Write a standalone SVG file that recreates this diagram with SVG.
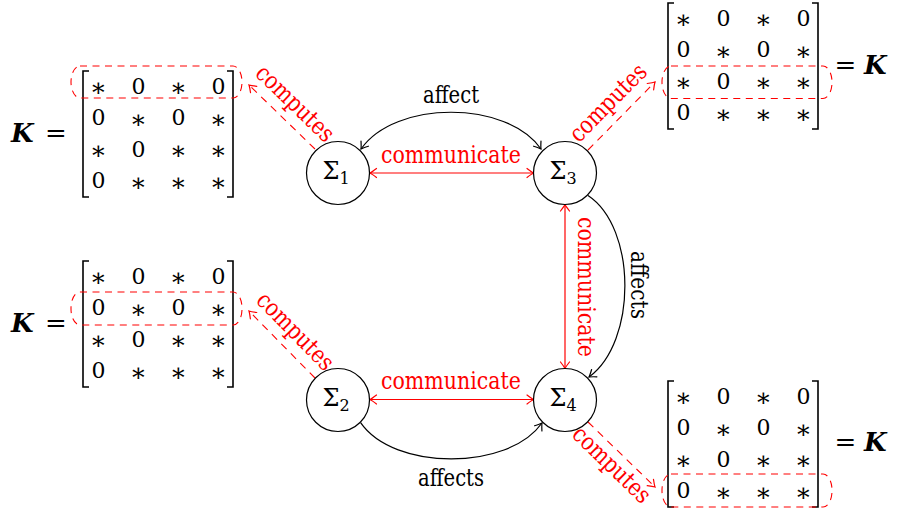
<svg xmlns="http://www.w3.org/2000/svg" width="897" height="514" viewBox="0 0 897 514" font-family="'DejaVu Serif', serif">
  <style>
    text { font-size: 24px; fill: #000; }
    .red { fill: #ff0000; }
    .node { fill: #fff; stroke: #000; stroke-width: 1.2; }
    .edge { fill: none; stroke: #000; stroke-width: 1.2; }
    .comm { fill: none; stroke: #ff0000; stroke-width: 1.2; }
    .dash { fill: none; stroke: #ff0000; stroke-width: 1.1; stroke-dasharray: 7.5 6; }
    .hl { fill: none; stroke: #ff0000; stroke-width: 1.1; stroke-dasharray: 7 5.5; }
    .brk { fill: none; stroke: #000; stroke-width: 1.6; }
    .gainK { font-size: 26px; font-weight: bold; font-style: italic; }
    .eq { font-size: 26px; }
    .sig { font-size: 24px; }
    .sub { font-size: 16px; }
    .cell text { font-size: 22px; }
    .cell .ast { font-size: 25px; }
  </style>
  <defs>
    <marker id="ah" markerUnits="userSpaceOnUse" markerWidth="14" markerHeight="14" refX="0" refY="0" orient="auto-start-reverse" overflow="visible">
      <path d="M-6.5,-4.5 Q-2,-1 0,0 Q-2,1 -6.5,4.5" fill="none" stroke="#000" stroke-width="1.2" stroke-linecap="round"/>
    </marker>
    <marker id="ahr" markerUnits="userSpaceOnUse" markerWidth="14" markerHeight="14" refX="0" refY="0" orient="auto-start-reverse" overflow="visible">
      <path d="M-6.5,-4.5 Q-2,-1 0,0 Q-2,1 -6.5,4.5" fill="none" stroke="#ff0000" stroke-width="1.2" stroke-linecap="round" stroke-dasharray="none"/>
    </marker>
    <!-- 4x4 sparsity pattern shared by every local gain matrix -->
    <g id="mat">
      <path class="brk" d="M6,0 H0 V126 H6 M144,0 H150 V126 H144"/>
      <g class="cell" text-anchor="middle">
        <text class="ast" x="15.5" y="25">∗</text><text x="55.5" y="22.5">0</text><text class="ast" x="95.5" y="25">∗</text><text x="135.5" y="22.5">0</text>
        <text x="15.5" y="54">0</text><text class="ast" x="55.5" y="56.5">∗</text><text x="95.5" y="54">0</text><text class="ast" x="135.5" y="56.5">∗</text>
        <text class="ast" x="15.5" y="88">∗</text><text x="55.5" y="85.5">0</text><text class="ast" x="95.5" y="88">∗</text><text class="ast" x="135.5" y="88">∗</text>
        <text x="15.5" y="117">0</text><text class="ast" x="55.5" y="119.5">∗</text><text class="ast" x="95.5" y="119.5">∗</text><text class="ast" x="135.5" y="119.5">∗</text>
      </g>
    </g>
  </defs>

  <!-- gain matrices with the row each subsystem computes -->
  <g id="matrix1">
    <use href="#mat" x="83" y="71"/>
    <rect class="hl" x="71" y="66" width="171" height="32" rx="9" ry="16"/>
    <text class="gainK" x="11" y="142">K</text>
    <text class="eq" x="56" y="142" text-anchor="middle">=</text>
  </g>
  <g id="matrix2">
    <use href="#mat" x="83" y="261"/>
    <rect class="hl" x="71" y="292" width="171" height="33" rx="9" ry="16"/>
    <text class="gainK" x="11" y="332">K</text>
    <text class="eq" x="56" y="332" text-anchor="middle">=</text>
  </g>
  <g id="matrix3">
    <use href="#mat" x="668" y="3"/>
    <rect class="hl" x="662" y="66" width="170" height="32.5" rx="9" ry="16"/>
    <text class="eq" x="845.5" y="74" text-anchor="middle">=</text>
    <text class="gainK" x="864" y="74">K</text>
  </g>
  <g id="matrix4">
    <use href="#mat" x="668" y="381"/>
    <rect class="hl" x="662" y="474" width="170" height="33" rx="9" ry="16"/>
    <text class="eq" x="845.5" y="451" text-anchor="middle">=</text>
    <text class="gainK" x="864" y="451">K</text>
  </g>

  <!-- edges between subsystems and to the computed rows -->
  <g id="connectors">
    <path class="edge" d="M361,149 C395,100 507,100 541,149" marker-start="url(#ah)" marker-end="url(#ah)"/>
    <text x="451" y="103" text-anchor="middle" textLength="56" lengthAdjust="spacingAndGlyphs">affect</text>

    <path class="edge" d="M588,195.5 C637,228 637,342 589,377" marker-end="url(#ah)"/>
    <text transform="translate(631,285) rotate(90)" text-anchor="middle" textLength="68" lengthAdjust="spacingAndGlyphs">affects</text>

    <path class="edge" d="M360.6,422.6 C394,471 508,471 542,423" marker-end="url(#ah)"/>
    <text x="451" y="486" text-anchor="middle" textLength="66" lengthAdjust="spacingAndGlyphs">affects</text>

    <path class="comm" d="M370,173 H533.5" marker-start="url(#ahr)" marker-end="url(#ahr)"/>
    <text class="red" x="451" y="163" text-anchor="middle" textLength="140" lengthAdjust="spacingAndGlyphs">communicate</text>

    <path class="comm" d="M370,399.5 H533.5" marker-start="url(#ahr)" marker-end="url(#ahr)"/>
    <text class="red" x="451" y="389" text-anchor="middle" textLength="140" lengthAdjust="spacingAndGlyphs">communicate</text>

    <path class="comm" d="M565,204.5 V368.5" marker-start="url(#ahr)" marker-end="url(#ahr)"/>
    <text class="red" transform="translate(565,287) rotate(90)" y="-13" text-anchor="middle" textLength="140" lengthAdjust="spacingAndGlyphs">communicate</text>

    <path class="dash" d="M315,149 L249,85" marker-end="url(#ahr)"/>
    <text class="red" transform="translate(282,117) rotate(44.1)" y="-11" text-anchor="middle" textLength="99" lengthAdjust="spacingAndGlyphs">computes</text>

    <path class="dash" d="M315,378 L249,311" marker-end="url(#ahr)"/>
    <text class="red" transform="translate(282,344.5) rotate(45.4)" y="-11" text-anchor="middle" textLength="99" lengthAdjust="spacingAndGlyphs">computes</text>

    <path class="dash" d="M588,150 L655,82" marker-end="url(#ahr)"/>
    <text class="red" transform="translate(621.5,116) rotate(-45.4)" y="-11" text-anchor="middle" textLength="99" lengthAdjust="spacingAndGlyphs">computes</text>

    <path class="dash" d="M588,422 L655,487" marker-end="url(#ahr)"/>
    <text class="red" transform="translate(621.5,454.5) rotate(44.1)" y="22" text-anchor="middle" textLength="99" lengthAdjust="spacingAndGlyphs">computes</text>
  </g>

  <!-- subsystems -->
  <g id="sigma1">
    <circle class="node" cx="338" cy="173" r="31.5"/>
    <text x="336" y="179" text-anchor="middle"><tspan class="sig">Σ</tspan><tspan class="sub" dy="5">1</tspan></text>
  </g>
  <g id="sigma2">
    <circle class="node" cx="338" cy="400" r="31.5"/>
    <text x="336" y="406" text-anchor="middle"><tspan class="sig">Σ</tspan><tspan class="sub" dy="5">2</tspan></text>
  </g>
  <g id="sigma3">
    <circle class="node" cx="565" cy="173" r="31.5"/>
    <text x="563" y="179" text-anchor="middle"><tspan class="sig">Σ</tspan><tspan class="sub" dy="5">3</tspan></text>
  </g>
  <g id="sigma4">
    <circle class="node" cx="565" cy="400" r="31.5"/>
    <text x="563" y="406" text-anchor="middle"><tspan class="sig">Σ</tspan><tspan class="sub" dy="5">4</tspan></text>
  </g>
</svg>
